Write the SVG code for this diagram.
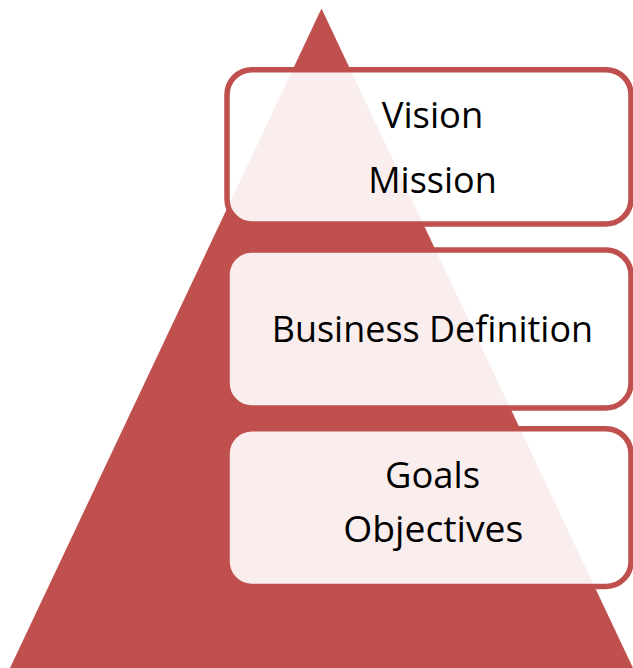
<svg xmlns="http://www.w3.org/2000/svg" width="633" height="668" viewBox="0 0 633 668">
<style>
.box{fill:#ffffff;fill-opacity:0.9;stroke:#C0504D;stroke-width:5.5}
.lbl{font-family:"Open Sans","Liberation Sans",sans-serif;font-size:37px;fill:#000000;text-anchor:middle}
</style>
<rect width="633" height="668" fill="#ffffff"/>
<g id="pyramid">
<polygon points="321.5,8.5 10,668 633,668" fill="#C0504D"/>
</g>
<g id="connectors"></g>
<g id="node-vision-mission">
<rect class="box" x="227" y="69.7" width="404" height="154.3" rx="25" ry="25"/>
<text class="lbl" x="432.5" y="127.7" textLength="101.6" lengthAdjust="spacingAndGlyphs">Vision</text>
<text class="lbl" x="432.5" y="193.3" textLength="128.4" lengthAdjust="spacingAndGlyphs">Mission</text>
</g>
<g id="node-business-definition">
<rect class="box" x="227" y="249.9" width="404" height="158" rx="25" ry="25"/>
<text class="lbl" x="432.4" y="341.7" textLength="321.3" lengthAdjust="spacingAndGlyphs">Business Definition</text>
</g>
<g id="node-goals-objectives">
<rect class="box" x="227" y="428.7" width="404" height="157.8" rx="25" ry="25"/>
<text class="lbl" x="432.5" y="487.7" textLength="95" lengthAdjust="spacingAndGlyphs">Goals</text>
<text class="lbl" x="433.3" y="542" textLength="180" lengthAdjust="spacingAndGlyphs">Objectives</text>
</g>
</svg>
